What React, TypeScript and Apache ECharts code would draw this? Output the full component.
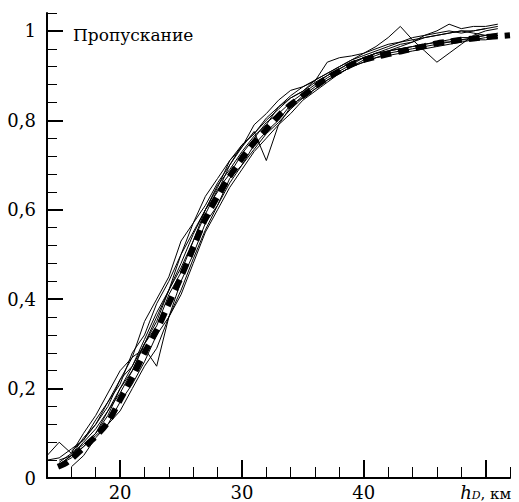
import React, { useEffect, useRef } from "react";
import * as echarts from "echarts";

const hGrid = [14, 15, 16, 17, 18, 19, 20, 21, 22, 23, 24, 25, 26, 27, 28, 29, 30, 31, 32, 33, 34, 35, 36, 37, 38, 39, 40, 41, 42, 43, 44, 45, 46, 47, 48, 49, 50, 51, 52];

const run1 = [0.05, 0.08, 0.055, 0.1, 0.14, 0.19, 0.24, 0.27, 0.35, 0.4, 0.45, 0.53, 0.57, 0.63, 0.67, 0.71, 0.745, 0.77, 0.805, 0.83, 0.855, 0.875, 0.89, 0.905, 0.92, 0.935, 0.945, 0.955, 0.965, 0.975, 0.985, 0.99, 1.0, 1.015, 1.005, 1.01, 1.01, 1.015, null];
const run2 = [0.04, 0.045, 0.065, 0.085, 0.12, 0.16, 0.22, 0.25, 0.31, 0.37, 0.42, 0.5, 0.55, 0.6, 0.655, 0.69, 0.73, 0.765, 0.79, 0.83, 0.85, 0.865, 0.89, 0.905, 0.92, 0.935, 0.95, 0.965, 0.985, 1.01, 0.98, 0.955, 0.93, 0.95, 0.97, 0.99, 1.0, 1.005, null];
const run3 = [null, 0.03, 0.05, 0.08, 0.11, 0.15, 0.2, 0.25, 0.3, 0.36, 0.42, 0.48, 0.545, 0.6, 0.65, 0.71, 0.74, 0.79, 0.815, 0.845, 0.867, 0.875, 0.888, 0.93, 0.94, 0.944, 0.95, 0.96, 0.97, 0.975, 0.98, 0.985, 0.99, 0.995, 1.0, 0.995, 0.99, null, null];
const run4 = [null, 0.035, 0.055, 0.075, 0.1, 0.15, 0.19, 0.24, 0.3, 0.34, 0.41, 0.46, 0.53, 0.6, 0.64, 0.7, 0.74, 0.775, 0.71, 0.79, 0.83, 0.855, 0.875, 0.895, 0.91, 0.925, 0.94, 0.95, 0.955, 0.96, 0.965, 0.97, 0.975, 0.98, 0.985, 0.985, 0.99, 0.99, null];
const run5 = [null, null, 0.06, 0.085, 0.13, 0.17, 0.22, 0.27, 0.29, 0.25, 0.36, 0.44, 0.5, 0.57, 0.61, 0.67, 0.7, 0.745, 0.775, 0.8, 0.835, 0.85, 0.87, 0.89, 0.905, 0.92, 0.93, 0.94, 0.945, 0.95, 0.955, 0.96, 0.965, 0.97, 0.975, 0.98, 0.98, 0.985, null];
const run6 = [null, null, 0.025, 0.05, 0.09, 0.12, 0.17, 0.21, 0.26, 0.32, 0.36, 0.42, 0.49, 0.555, 0.61, 0.66, 0.7, 0.735, 0.77, 0.795, 0.825, 0.85, 0.87, 0.89, 0.905, 0.92, 0.935, 0.945, 0.955, 0.96, 0.965, 0.97, 0.975, 0.975, 0.98, 0.98, 0.985, 0.99, null];
const run7 = [null, 0.04, 0.05, 0.07, 0.095, 0.12, 0.15, 0.2, 0.25, 0.29, 0.36, 0.41, 0.48, 0.55, 0.6, 0.65, 0.69, 0.73, 0.76, 0.79, 0.815, 0.845, 0.865, 0.885, 0.905, 0.92, 0.93, 0.94, 0.95, 0.955, 0.96, 0.965, 0.97, 0.975, 0.98, 0.985, 0.99, 0.995, null];
const run8 = [null, 0.03, 0.05, 0.09, 0.12, 0.17, 0.21, 0.28, 0.32, 0.39, 0.44, 0.5, 0.57, 0.61, 0.66, 0.7, 0.745, 0.77, 0.8, 0.825, 0.85, 0.865, 0.885, 0.9, 0.915, 0.93, 0.94, 0.95, 0.96, 0.97, 0.975, 0.985, 0.99, 0.995, 1.0, 1.0, 1.005, null, null];
const run9 = [null, 0.03, 0.045, 0.07, 0.1, 0.14, 0.2, 0.24, 0.3, 0.35, 0.42, 0.47, 0.53, 0.59, 0.645, 0.68, 0.725, 0.76, 0.795, 0.815, 0.84, 0.86, 0.88, 0.9, 0.915, 0.93, 0.94, 0.95, 0.955, 0.965, 0.975, 0.99, 0.995, 1.0, 0.995, 1.0, 1.005, 1.01, null];

const runs = [run1, run2, run3, run4, run5, run6, run7, run8, run9];

const meanH = [14.9, 15.7, 17, 18, 19, 20, 21, 22, 23, 24, 25, 26, 27, 28, 29, 30, 31, 32, 33, 34, 35, 36, 37, 38, 39, 40, 41, 42, 43, 44, 45, 46, 47, 48, 49, 50, 51, 52];
const meanT = [0.025, 0.036, 0.068, 0.093, 0.125, 0.175, 0.225, 0.28, 0.33, 0.39, 0.45, 0.515, 0.58, 0.63, 0.675, 0.715, 0.75, 0.78, 0.81, 0.835, 0.855, 0.875, 0.895, 0.91, 0.925, 0.935, 0.942, 0.948, 0.954, 0.96, 0.966, 0.972, 0.976, 0.98, 0.983, 0.986, 0.988, 0.99];

const xMinorTicks = [14, 16, 18, 22, 24, 26, 28, 32, 34, 36, 38, 42, 44, 46, 48, 52];
const xMajorTicks = [20, 30, 40, 50];
const xLabels = [20, 30, 40, 50];
const yMinorTicks = [0.04, 0.08, 0.12, 0.16, 0.24, 0.28, 0.32, 0.36, 0.44, 0.48, 0.52, 0.56, 0.64, 0.68, 0.72, 0.76, 0.84, 0.88, 0.92, 0.96, 1.04];
const yMajorTicks = [0, 0.2, 0.4, 0.6, 0.8, 1];
const titleText = "Пропускание";

const FONT = "DejaVu Serif";

export default function App() {
  const ref = useRef<HTMLDivElement>(null);
  useEffect(() => {
    if (!ref.current) return;
    const chart = echarts.init(ref.current, undefined, { renderer: "svg" });
    const thinSeries = runs.map((r, i) => ({
      type: "line",
      name: "run" + (i + 1),
      xAxisIndex: 0,
      yAxisIndex: 0,
      data: hGrid.map((h, j) => [h, r[j]]),
      showSymbol: false,
      symbol: "none",
      connectNulls: false,
      lineStyle: { color: "#000", width: 1 },
      silent: true,
    }));
    const meanSeries = {
      type: "line",
      name: "mean",
      xAxisIndex: 0,
      yAxisIndex: 0,
      data: meanH.map((h, j) => [h, meanT[j]]),
      showSymbol: false,
      symbol: "none",
      smooth: 0.3,
      lineStyle: { color: "#000", width: 6, type: [11, 7], cap: "butt" },
      silent: true,
    };
    const axisCommonX = { type: "value", min: 14, max: 52, splitLine: { show: false } };
    const axisCommonY = { type: "value", min: 0, max: 1.04, splitLine: { show: false } };
    chart.setOption({
      animation: false,
      backgroundColor: "#fff",
      textStyle: { fontFamily: FONT },
      grid: { left: 47, right: 9, top: 13, bottom: 24, containLabel: false },
      xAxis: [
        {
          ...axisCommonX,
          position: "bottom",
          axisLine: { show: true, onZero: false, lineStyle: { color: "#000", width: 2 } },
          axisTick: { show: true, inside: true, length: 11, customValues: xMinorTicks, lineStyle: { color: "#000", width: 1 } },
          axisLabel: { show: false },
        },
        {
          ...axisCommonX,
          position: "bottom",
          axisLine: { show: false, onZero: false },
          axisTick: { show: true, inside: true, length: 18, customValues: xMajorTicks, lineStyle: { color: "#000", width: 2 } },
          axisLabel: {
            show: true,
            customValues: xLabels,
            margin: 5,
            color: "#000",
            fontSize: 18,
            fontFamily: FONT,
            formatter: (v: number) => (v === 50 ? "{i|h}{s|D}{n|, км}" : String(v)),
            rich: {
              i: { fontStyle: "italic", fontSize: 18, fontFamily: FONT, color: "#000", verticalAlign: "bottom" },
              s: { fontStyle: "italic", fontSize: 11, fontFamily: FONT, color: "#000", verticalAlign: "bottom", padding: [6, 0, 0, 0] },
              n: { fontSize: 15, fontFamily: FONT, color: "#000", verticalAlign: "bottom" },
            },
          },
        },
      ],
      yAxis: [
        {
          ...axisCommonY,
          position: "left",
          axisLine: { show: true, onZero: false, lineStyle: { color: "#000", width: 2 } },
          axisTick: { show: true, inside: true, length: 10, customValues: yMinorTicks, lineStyle: { color: "#000", width: 1 } },
          axisLabel: { show: false },
        },
        {
          ...axisCommonY,
          position: "left",
          axisLine: { show: false, onZero: false },
          axisTick: { show: true, inside: true, length: 16, customValues: yMajorTicks, lineStyle: { color: "#000", width: 2 } },
          axisLabel: {
            show: true,
            customValues: yMajorTicks,
            margin: 11,
            color: "#000",
            fontSize: 18,
            fontFamily: FONT,
            formatter: (v: number) => String(v).replace(".", ","),
          },
        },
      ],
      graphic: [
        {
          type: "text",
          left: 73,
          top: 26,
          style: { text: titleText, fontSize: 17, fontFamily: FONT, fill: "#000" },
        },
      ],
      series: [...thinSeries, meanSeries],
    });
    return () => chart.dispose();
  }, []);
  return <div ref={ref} style={{ width: 519, height: 502, position: "absolute", left: 0, top: 0 }} />;
}
